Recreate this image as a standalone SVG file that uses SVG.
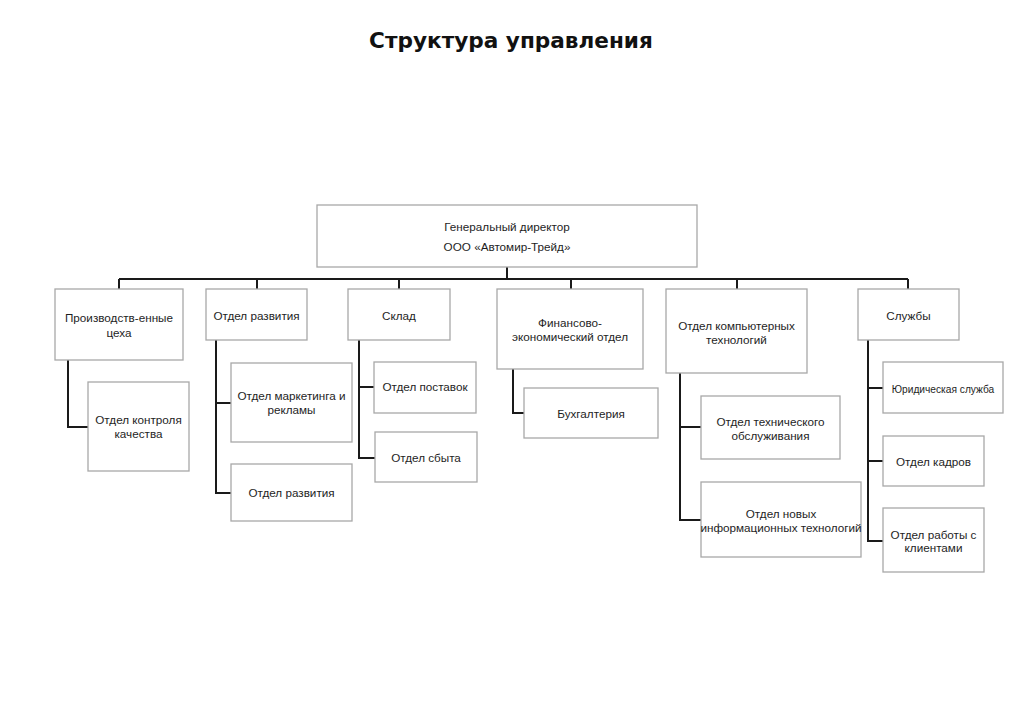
<svg xmlns="http://www.w3.org/2000/svg" width="1024" height="723" viewBox="0 0 1024 723">
<style>
.box{fill:#fff;stroke:#a8a8a8;stroke-width:1.3}
.t{font-family:"Liberation Sans",Arial,sans-serif;font-size:11.7px;fill:#1e1e1e;text-anchor:middle}
.s{font-size:10.2px}
.c{fill:none;stroke:#1a1a1a;stroke-width:2}
.title{font-family:"DejaVu Sans",Verdana,sans-serif;font-weight:bold;font-size:21.6px;fill:#111;text-anchor:middle}
</style>
<rect width="1024" height="723" fill="#fff"/>
<text class="title" x="511" y="47.5">Структура управления</text>
<g id="connectors">
<path class="c" d="M507 267V279M119 279H908M119 279V289M257 279V289M399 279V289M571 279V289M737 279V289M908 279V289"/>
<path class="c" d="M68 360V427H88"/>
<path class="c" d="M216 340V493H231M216 403H231"/>
<path class="c" d="M359 340V458H375M359 387H374"/>
<path class="c" d="M513 369V413H524"/>
<path class="c" d="M680 373V520H701M680 427H701"/>
<path class="c" d="M868 340V541H883M868 388H883M868 461H883"/>
</g>
<g id="director"><rect class="box" x="317" y="205" width="380" height="62"/><text class="t" x="507" y="231">Генеральный директор</text><text class="t" x="507" y="251">ООО «Автомир-Трейд»</text></g>
<g id="proizv"><rect class="box" x="55" y="289" width="128" height="71"/><text class="t" x="119" y="322">Производств-енные</text><text class="t" x="119" y="337">цеха</text></g>
<g id="razvitiya"><rect class="box" x="206" y="289" width="101" height="51"/><text class="t" x="256.5" y="320">Отдел развития</text></g>
<g id="sklad"><rect class="box" x="348" y="289" width="102" height="51"/><text class="t" x="399" y="320">Склад</text></g>
<g id="finans"><rect class="box" x="497" y="289" width="146" height="80"/><text class="t" x="570" y="326.5">Финансово-</text><text class="t" x="570" y="341">экономический отдел</text></g>
<g id="komp"><rect class="box" x="666" y="289" width="141" height="84"/><text class="t" x="736.5" y="330">Отдел компьютерных</text><text class="t" x="736.5" y="343.5">технологий</text></g>
<g id="sluzhby"><rect class="box" x="858" y="289" width="101" height="51"/><text class="t" x="908.5" y="320">Службы</text></g>
<g id="kontrol"><rect class="box" x="88" y="382" width="101" height="89"/><text class="t" x="138.5" y="424">Отдел контроля</text><text class="t" x="138.5" y="438">качества</text></g>
<g id="marketing"><rect class="box" x="231" y="363" width="121" height="79"/><text class="t" x="291.5" y="400">Отдел маркетинга и</text><text class="t" x="291.5" y="413.5">рекламы</text></g>
<g id="razvitiya2"><rect class="box" x="231" y="464" width="121" height="57"/><text class="t" x="291.5" y="497">Отдел развития</text></g>
<g id="postavok"><rect class="box" x="374" y="362" width="102" height="51"/><text class="t" x="425" y="391">Отдел поставок</text></g>
<g id="sbyta"><rect class="box" x="375" y="432" width="102" height="50"/><text class="t" x="426" y="462">Отдел сбыта</text></g>
<g id="buh"><rect class="box" x="524" y="388" width="134" height="50"/><text class="t" x="591" y="418">Бухгалтерия</text></g>
<g id="tech"><rect class="box" x="701" y="396" width="139" height="63"/><text class="t" x="770.5" y="426">Отдел технического</text><text class="t" x="770.5" y="440">обслуживания</text></g>
<g id="newit"><rect class="box" x="701" y="482" width="160" height="75"/><text class="t" x="781" y="518">Отдел новых</text><text class="t" x="781" y="531.5">информационных технологий</text></g>
<g id="yur"><rect class="box" x="883" y="362" width="120" height="51"/><text class="t s" x="943" y="392.5">Юридическая служба</text></g>
<g id="kadr"><rect class="box" x="883" y="436" width="101" height="50"/><text class="t" x="933.5" y="466">Отдел кадров</text></g>
<g id="klient"><rect class="box" x="883" y="508" width="101" height="64"/><text class="t" x="933.5" y="538.5">Отдел работы с</text><text class="t" x="933.5" y="552">клиентами</text></g>
</svg>
